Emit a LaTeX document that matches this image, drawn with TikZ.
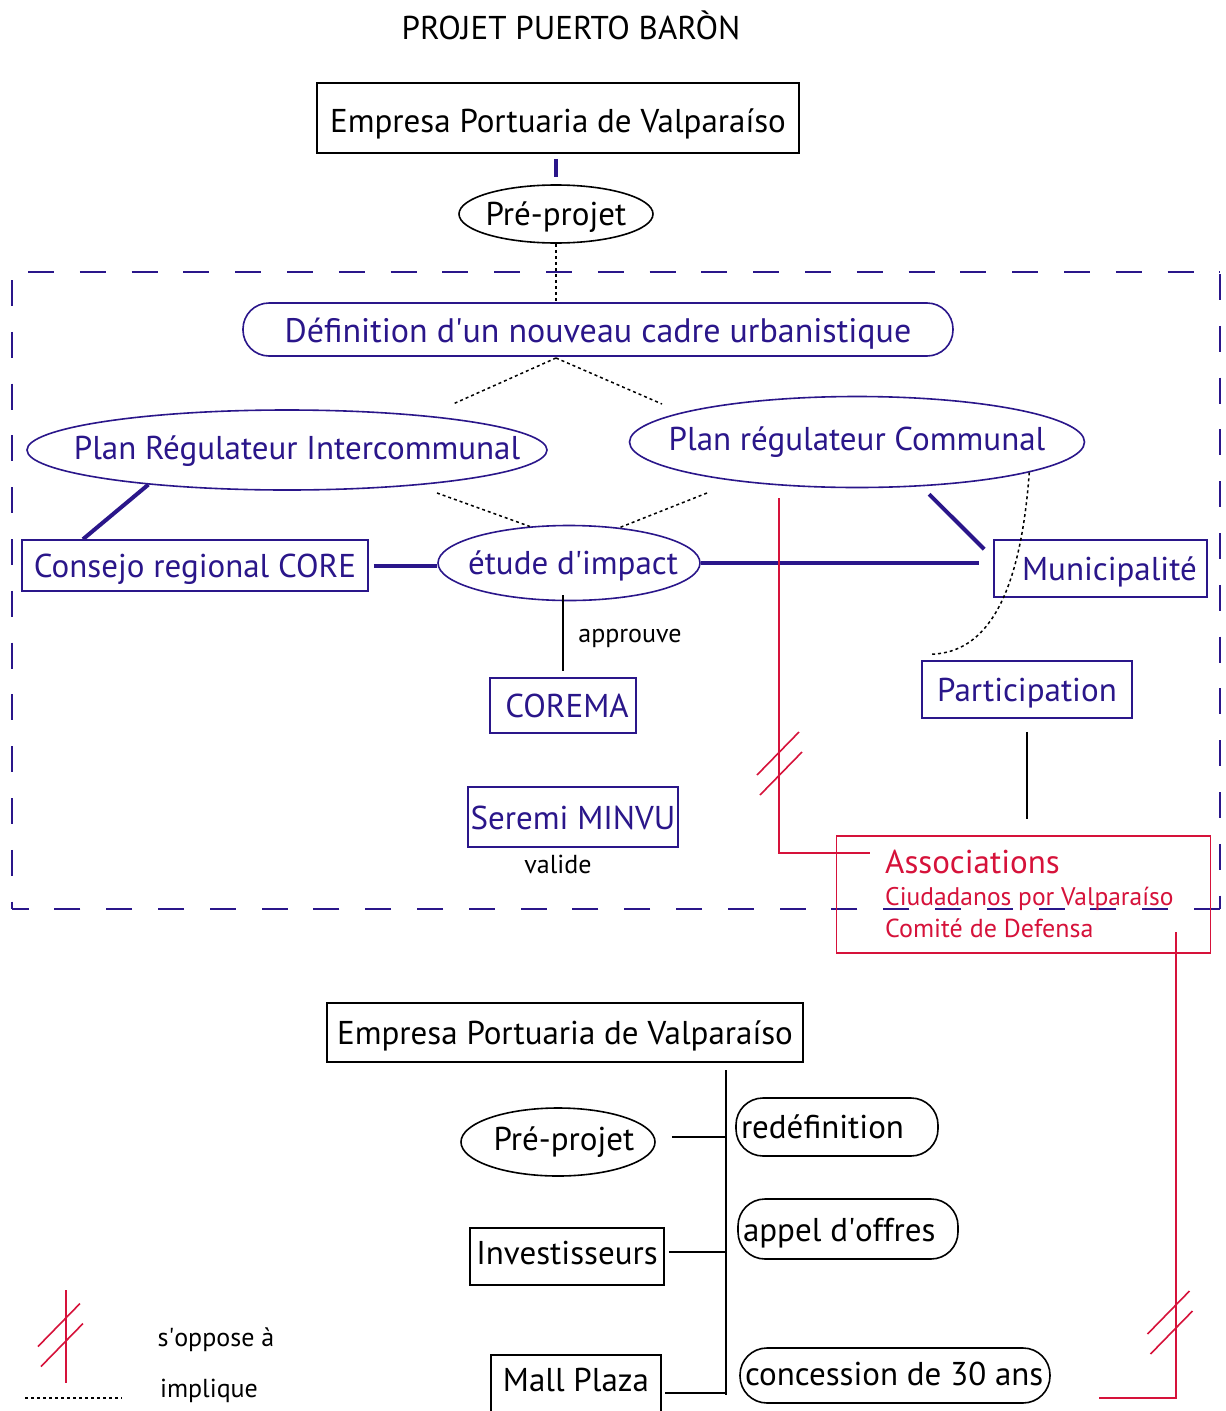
\documentclass[tikz,border=0pt]{standalone}
\usepackage{fontspec}
\setmainfont{PT Sans}
\usetikzlibrary{shapes.geometric}
\definecolor{navy}{RGB}{42,22,138}
\definecolor{crim}{RGB}{214,18,58}
\newcommand\fsz[1]{\fontsize{#1pt}{#1pt}\selectfont}
\newcommand\aq{\textquotesingle}
\newcommand\zbox[2][12pt]{\makebox[0pt]{\raisebox{-#1}[0pt][0pt]{#2}}}
\newcommand\lbox[3][12pt]{\makebox[#2][l]{\raisebox{-#1}[0pt][0pt]{#3}}}
\newcommand\oppmark[2]{%
  \draw[oppose] (#1-21,#2+21.5) -- ++(42,-43);
  \draw[oppose] (#1-18,#2+41.5) -- ++(42,-43);}
\tikzset{
  bbox/.style={draw=black, line width=1.6pt, inner sep=0pt, text=black, font=\fsz{33}},
  nbox/.style={draw=navy, line width=1.6pt, inner sep=0pt, text=navy, font=\fsz{33}},
  nell/.style={nbox, ellipse},
  bell/.style={bbox, ellipse},
  nround/.style={nbox, rounded corners=26pt},
  bround/.style={bbox, rounded corners=27pt, inner xsep=5pt},
  thicklink/.style={draw=navy, line width=4pt},
  implies/.style={draw=black, line width=1.5pt, dash pattern=on 3pt off 3pt},
  plainlink/.style={draw=black, line width=1.4pt},
  oppose/.style={draw=crim, line width=1.6pt},
  frameline/.style={draw=navy, line width=1.8pt, dash pattern=on 26pt off 25.8pt},
  smalltxt/.style={font=\fsz{26}, text=black, inner sep=0pt},
  redtxt/.style={text=crim, inner sep=0pt, anchor=base west},
}
\begin{document}
\begin{tikzpicture}[x=1pt,y=-1pt]
\useasboundingbox[fill=white] (0,0) rectangle (1226,1411);

% frame
\draw[frameline] (28,272) -- (1220,272);
\draw[frameline] (1220,274) -- (1220,909);
\draw[frameline] (1220,909) -- (12,909);
\draw[frameline] (12,280) -- (12,909);

% title
\node[font=\fsz{33}, inner sep=0pt] (title) at (571,25) {PROJET PUERTO BARÒN};

% top part
\node[bbox, minimum width=482pt, minimum height=70pt] (ep1) at (558,118) {\zbox[14pt]{Empresa Portuaria de Valparaíso}};
\node[bell, minimum width=194pt, minimum height=58pt] (pre1) at (556,214) {\zbox[11pt]{Pré-projet}};
\node[nround, minimum width=710pt, minimum height=53pt] (def) at (598,329.5) {\zbox[12.5pt]{\fsz{34}Définition d\aq un nouveau cadre urbanistique}};
\node[nell, minimum width=520pt, minimum height=80pt] (pri) at (287,450) {\zbox[9pt]{\hspace*{20pt}Plan Régulateur Intercommunal}};
\node[nell, minimum width=455pt, minimum height=91pt] (prc) at (857,442) {\zbox[8.5pt]{Plan régulateur Communal}};
\node[nell, minimum width=262pt, minimum height=75pt] (etude) at (569,563) {\zbox[11pt]{\hspace*{8pt}étude d\aq impact}};
\node[nbox, minimum width=346pt, minimum height=51pt] (core) at (195,565.5) {\zbox[11.5pt]{Consejo regional CORE}};
\node[nbox, minimum width=213pt, minimum height=57pt] (muni) at (1100.5,568.5) {\zbox[11.5pt]{\hspace*{18pt}Municipalité}};
\node[nbox, minimum width=210pt, minimum height=57pt] (part) at (1027,689.5) {\zbox[11.5pt]{Participation}};
\node[nbox, minimum width=146pt, minimum height=55pt] (corema) at (563,705.5) {\zbox[12pt]{\hspace*{8pt}COREMA}};
\node[nbox, minimum width=210pt, minimum height=60pt] (seremi) at (573,817) {\zbox[12pt]{Seremi MINVU}};
\node[smalltxt] (approuve) at (630,638) {approuve};
\node[smalltxt] (valide) at (558,864) {valide};

% associations
\node[draw=crim, line width=1.6pt, minimum width=374pt, minimum height=117pt, inner sep=0pt] (assoc) at (1023.5,894.5) {};
\node[redtxt, font=\fsz{33}] (assocT) at (885,873) {Associations};
\node[redtxt, font=\fsz{25.5}] (ciud) at (885,905) {Ciudadanos por Valparaíso};
\node[redtxt, font=\fsz{26}] (comite) at (885,937) {Comité de Defensa};

% connectors top part
\draw[thicklink, shorten <=5pt, shorten >=7pt] (ep1.south -| pre1) -- (pre1.north);
\draw[implies] (pre1.south) -- (def.north -| pre1);
\coordinate (apex) at (556,358);
\coordinate (dA) at (453,404);
\coordinate (dB) at (662,404);
\draw[implies] (apex) -- (dA);
\draw[implies] (apex) -- (dB);
\coordinate (dC) at (437,493);
\coordinate (dD) at (707,493);
\draw[implies] (dC) -- (etude.137);
\draw[implies] (dD) -- (etude.35);
\draw[thicklink] (pri.194) -- ([xshift=-112pt]core.north);
\draw[thicklink, shorten <=5pt] (core.east) -- (core.east -| etude.west);
\draw[thicklink] (etude.east) -- ([xshift=-14pt]muni.west |- etude.east);
\draw[thicklink] ([shift={(4pt,-8pt)}]prc.-33) -- ([shift={(-9pt,-10pt)}]muni.north west);
\draw[implies] (prc.-10) .. controls (1020,600) and (985,652) .. ([shift={(11pt,6pt)}]part.north west);
\draw[plainlink] ([yshift=6pt]etude.south -| corema.north) -- ([yshift=6pt]corema.north);
\draw[plainlink, shorten <=13pt, shorten >=16pt] (part.south) -- (part.south |- assoc.north);

% opposition line to Associations
\coordinate (oppA) at (779,498);
\coordinate (oppB) at (870,853);
\draw[oppose] (oppA) |- (oppB);
\oppmark{778}{753.5}

% bottom part
\node[bbox, minimum width=476pt, minimum height=59pt] (ep2) at (565,1032.5) {\zbox[12pt]{Empresa Portuaria de Valparaíso}};
\node[bell, minimum width=194pt, minimum height=68pt] (pre2) at (558,1142) {\zbox[8pt]{\hspace*{12pt}Pré-projet}};
\node[bbox, minimum width=194pt, minimum height=57pt] (inv) at (567,1256.5) {\zbox[8pt]{Investisseurs}};
\node[draw=black, line width=1.6pt, minimum width=170pt, minimum height=72pt, inner sep=0pt, anchor=north] (mallbox) at (576,1354) {};
\node[font=\fsz{33}, inner sep=0pt] (mall) at (576,1380) {Mall Plaza};
\node[bround, minimum width=202pt, minimum height=58pt] (redef) at (837,1127) {\lbox[11pt]{192pt}{redéfinition}};
\node[bround, minimum width=220pt, minimum height=60pt] (appel) at (848,1229) {\lbox[12pt]{210pt}{appel d\aq offres}};
\node[bround, minimum width=310pt, minimum height=55pt] (conc) at (895,1375.5) {\lbox[9.5pt]{300pt}{concession de 30 ans}};

\coordinate (spineTop) at (726,1070);
\coordinate (spineBot) at (726,1395);
\draw[plainlink] (spineTop) -- (spineBot);
\draw[plainlink, shorten <=16pt] ([yshift=5pt]pre2.east) -- ([yshift=5pt]pre2.east -| spineTop);
\draw[plainlink, shorten <=4pt] ([yshift=4.5pt]inv.east) -- ([yshift=4.5pt]inv.east -| spineTop);
\coordinate (mallR) at (661,1393);
\draw[plainlink, shorten <=4pt] (mallR) -- (mallR -| spineTop);

% opposition line from Associations
\coordinate (oppC) at (1176,932);
\coordinate (oppD) at (1099,1398);
\draw[oppose] (oppC) |- (oppD);
\oppmark{1168.5}{1312.5}

% legend
\coordinate (legA) at (66,1290);
\coordinate (legB) at (66,1383);
\draw[oppose] (legA) -- (legB);
\oppmark{59}{1325}
\node[smalltxt] (lopp) at (216,1340) {s\aq oppose à};
\coordinate (legC) at (25,1398);
\coordinate (legD) at (122,1398);
\draw[implies] (legC) -- (legD);
\node[smalltxt] (limp) at (209,1391) {implique};
\end{tikzpicture}
\end{document}
